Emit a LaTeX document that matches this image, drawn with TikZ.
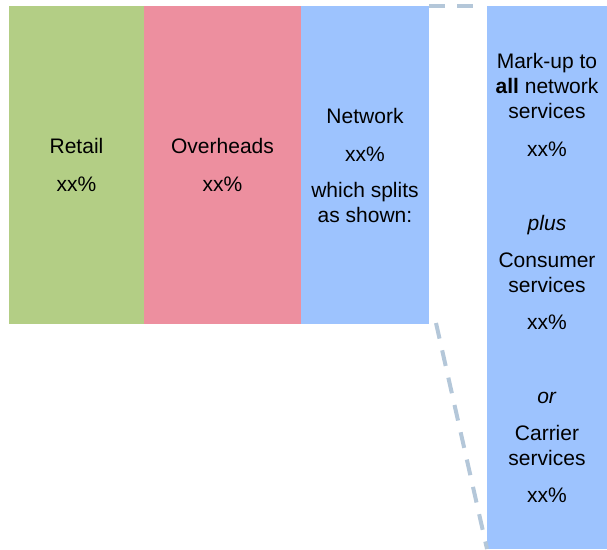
\documentclass[tikz,border=0pt]{standalone}
\usepackage{fontspec}
\setmainfont{Liberation Sans}
\usetikzlibrary{positioning}
\definecolor{retailgreen}{RGB}{179,206,133}
\definecolor{overheadpink}{RGB}{237,143,159}
\definecolor{networkblue}{RGB}{157,195,254}
\definecolor{cutgrey}{RGB}{180,199,217}
\begin{document}
\begin{tikzpicture}[x=1pt, y=-1pt, font=\fontsize{21}{25}\selectfont, bar/.style={draw=none, inner sep=0pt, outer sep=0pt, minimum height=318pt, align=center}, cut/.style={draw=cutgrey, line width=4pt, dash pattern=on 16pt off 12pt}]
        \useasboundingbox (0,0) rectangle (607,549);
        \node[bar, fill=retailgreen, minimum width=135pt] (retail) at (76.5,165) {Retail\\[13pt]xx\%};
        \node[bar, fill=overheadpink, minimum width=157pt] (overheads) [right=0pt of retail] {Overheads\\[13pt]xx\%};
        \node[bar, fill=networkblue, minimum width=128pt] (network) [right=0pt of overheads] {Network\\[13pt]xx\%\\[11pt]which splits\\as shown:};
        \node[bar, fill=networkblue, minimum width=120pt, minimum height=543pt] (split) at (547,277.5) {Mark-up to\\\textbf{all} network\\services\\[13pt]xx\%\\[49pt]\textit{plus}\\[12pt]Consumer\\services\\[12pt]xx\%\\[49pt]\textit{or}\\[12pt]Carrier\\services\\[12pt]xx\%};
        \coordinate (cutstart) at (436,323);

        \path (network.north east) edge [cut, shorten >=3pt] (split.north west)
        (cutstart) edge [cut] (split.south west);
    \end{tikzpicture}
\end{document}
